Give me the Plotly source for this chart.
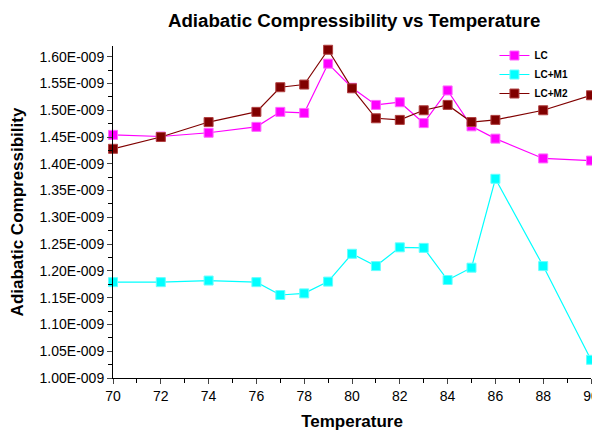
import plotly.graph_objects as go

temperature = [70, 72, 74, 76, 77, 78, 79, 80, 81, 82, 83, 84, 85, 86, 88, 90]
lc = [1.454, 1.451, 1.458, 1.469, 1.497, 1.495, 1.587, 1.542, 1.510, 1.515, 1.476, 1.537, 1.470, 1.447, 1.410, 1.406]
lc_m1 = [1.179, 1.179, 1.182, 1.179, 1.155, 1.158, 1.180, 1.232, 1.209, 1.244, 1.243, 1.183, 1.206, 1.372, 1.209, 1.034]
lc_m2 = [1.428, 1.450, 1.478, 1.497, 1.543, 1.548, 1.613, 1.541, 1.485, 1.482, 1.500, 1.510, 1.478, 1.482, 1.500, 1.528]
scale = 1e-9

y_tick_values = [1.00, 1.05, 1.10, 1.15, 1.20, 1.25, 1.30, 1.35, 1.40, 1.45, 1.50, 1.55, 1.60]
y_tick_labels = ["1.00E-009", "1.05E-009", "1.10E-009", "1.15E-009", "1.20E-009", "1.25E-009",
                 "1.30E-009", "1.35E-009", "1.40E-009", "1.45E-009", "1.50E-009", "1.55E-009", "1.60E-009"]
x_tick_values = [70, 72, 74, 76, 78, 80, 82, 84, 86, 88, 90]

series = [
    ("LC", lc, "#ff00ff", "#ff66ff"),
    ("LC+M1", lc_m1, "#00ffff", "#66ffff"),
    ("LC+M2", lc_m2, "#800000", "#b04040"),
]

fig = go.Figure()
for name, vals, col, edge in series:
    fig.add_trace(go.Scatter(
        x=temperature, y=[v * scale for v in vals], name="<b>" + name + "</b>",
        mode="lines+markers", cliponaxis=False,
        line=dict(color=col, width=1.2),
        marker=dict(symbol="square", size=9, color=col, line=dict(color=edge, width=1)),
    ))

font_family = "Liberation Sans, Arial, sans-serif"
fig.update_layout(
    width=600, height=430,
    paper_bgcolor="white", plot_bgcolor="white",
    margin=dict(l=105, r=17, t=38, b=60),
    font=dict(family=font_family, color="black", size=13),
    title=dict(text="<b>Adiabatic Compressibility vs Temperature</b>",
               x=0.577, xanchor="center", y=0.972, yanchor="middle",
               font=dict(size=18.7, family=font_family, color="black")),
    legend=dict(x=0.798, y=1.015, xanchor="left", yanchor="top",
                bgcolor="rgba(0,0,0,0)", font=dict(size=10, family=font_family),
                tracegroupgap=0, itemwidth=30),
    showlegend=True,
)
fig.update_xaxes(
    range=[70, 90], tickvals=x_tick_values, ticks="outside", ticklen=5,
    showline=True, linecolor="black", linewidth=1, showgrid=False, zeroline=False,
    minor=dict(ticks="outside", dtick=1, ticklen=4, tickcolor="black", showgrid=False),
    tickfont=dict(size=14), automargin=False,
    title=dict(text="<b>Temperature</b>", font=dict(size=17), standoff=12),
)
fig.update_yaxes(
    range=[1.0 * scale, 1.62 * scale],
    tickvals=[v * scale for v in y_tick_values], ticktext=y_tick_labels,
    ticks="outside", ticklen=5,
    showline=True, linecolor="black", linewidth=1, showgrid=False, zeroline=False,
    minor=dict(ticks="outside", dtick=0.025 * scale, tick0=1.0 * scale, ticklen=4, tickcolor="black", showgrid=False),
    tickfont=dict(size=14), automargin=False,
    title=dict(text="<b>Adiabatic Compressibility</b>", font=dict(size=17), standoff=19),
)

fig.write_html("out.html")
